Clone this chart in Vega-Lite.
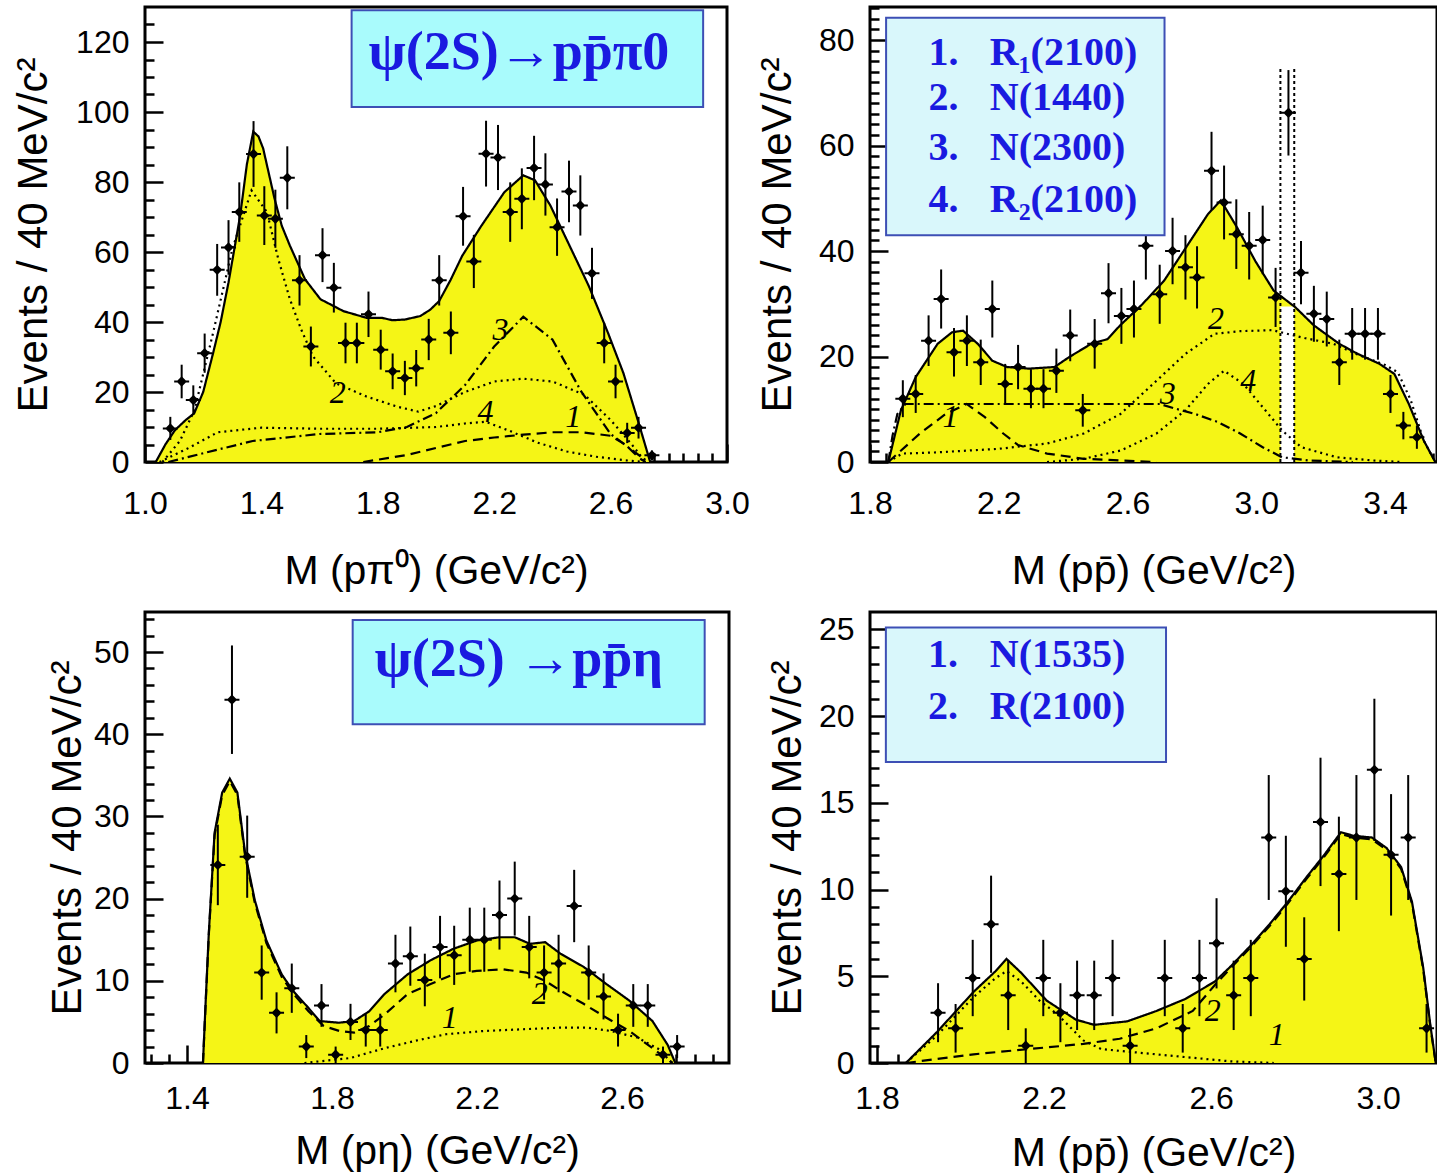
{
  "$schema": "https://vega.github.io/schema/vega-lite/v6.json",
  "autosize": {"type": "pad"},
  "padding": {"left": 10, "top": 5, "right": 0, "bottom": 0},
  "background": "white",
  "columns": 2,
  "spacing": {"row": 150, "column": 141},
  "align": "none",
  "bounds": "flush",
  "config": {
    "view": {"stroke": "black", "strokeWidth": 3},
    "axis": {"labelFont": "Liberation Sans", "labelFontSize": 32, "labelColor": "black", "titleFont": "Liberation Sans", "titleFontWeight": "normal", "titleColor": "black", "domain": false, "grid": false, "tickColor": "black", "tickWidth": 2.5, "labelFlush": false, "labelOverlap": false},
    "axisX": {"titleFontSize": 41},
    "axisY": {"titleFontSize": 42}
  },
  "datasets": {
    "p1p": [
      {"m":1.087,"n":9.6,"lo":6.3,"hi":12.9},{"m":1.126,"n":23,"lo":18.2,"hi":27.8},{"m":1.166,"n":17.7,"lo":13.5,"hi":21.9},{"m":1.205,"n":31.1,"lo":25.5,"hi":36.7},{"m":1.248,"n":54.9,"lo":47.5,"hi":62.3},{"m":1.287,"n":61.3,"lo":53.5,"hi":69.1},{"m":1.324,"n":71.4,"lo":62.9,"hi":79.9},{"m":1.373,"n":88,"lo":78.6,"hi":97.4},{"m":1.41,"n":70.4,"lo":62,"hi":78.8},{"m":1.448,"n":69.5,"lo":61.2,"hi":77.8},{"m":1.489,"n":81.2,"lo":72.2,"hi":90.2},{"m":1.531,"n":51.9,"lo":44.7,"hi":59.1},{"m":1.57,"n":33,"lo":27.3,"hi":38.7},{"m":1.61,"n":59.1,"lo":51.4,"hi":66.8},{"m":1.649,"n":49.8,"lo":42.7,"hi":56.9},{"m":1.689,"n":34,"lo":28.2,"hi":39.8},{"m":1.728,"n":34,"lo":28.2,"hi":39.8},{"m":1.768,"n":42.2,"lo":35.7,"hi":48.7},{"m":1.81,"n":32.1,"lo":26.4,"hi":37.8},{"m":1.851,"n":25.9,"lo":20.8,"hi":31},{"m":1.893,"n":24,"lo":19.1,"hi":28.9},{"m":1.932,"n":26.8,"lo":21.6,"hi":32},{"m":1.975,"n":35,"lo":29.1,"hi":40.9},{"m":2.011,"n":51.9,"lo":44.7,"hi":59.1},{"m":2.051,"n":36.9,"lo":30.8,"hi":43},{"m":2.093,"n":70.2,"lo":61.8,"hi":78.6},{"m":2.13,"n":57.3,"lo":49.7,"hi":64.9},{"m":2.172,"n":88.1,"lo":78.7,"hi":97.5},{"m":2.213,"n":87,"lo":77.7,"hi":96.3},{"m":2.255,"n":71.4,"lo":62.9,"hi":79.9},{"m":2.295,"n":75.2,"lo":66.5,"hi":83.9},{"m":2.337,"n":84,"lo":74.8,"hi":93.2},{"m":2.376,"n":79.3,"lo":70.4,"hi":88.2},{"m":2.416,"n":67.1,"lo":58.9,"hi":75.3},{"m":2.457,"n":77.3,"lo":68.5,"hi":86.1},{"m":2.496,"n":73.3,"lo":64.7,"hi":81.9},{"m":2.536,"n":53.9,"lo":46.6,"hi":61.2},{"m":2.578,"n":34,"lo":28.2,"hi":39.8},{"m":2.617,"n":23,"lo":18.2,"hi":27.8},{"m":2.657,"n":8.3,"lo":5.4,"hi":11.2},{"m":2.696,"n":9.8,"lo":6.7,"hi":12.9},{"m":2.742,"n":1.9,"lo":0.5,"hi":3.3}
    ],
    "p1c": [
      {"c":"total","m":1.037,"v":0},{"c":"total","m":1.07,"v":5},{"c":"total","m":1.103,"v":9.1},{"c":"total","m":1.14,"v":12},{"c":"total","m":1.169,"v":13.9},{"c":"total","m":1.2,"v":20},{"c":"total","m":1.234,"v":31.1},{"c":"total","m":1.26,"v":40},{"c":"total","m":1.287,"v":51.3},{"c":"total","m":1.327,"v":70.4},{"c":"total","m":1.35,"v":85},{"c":"total","m":1.372,"v":94.4},{"c":"total","m":1.39,"v":93},{"c":"total","m":1.406,"v":89.6},{"c":"total","m":1.445,"v":75.3},{"c":"total","m":1.47,"v":67.5},{"c":"total","m":1.498,"v":61.8},{"c":"total","m":1.55,"v":52.2},{"c":"total","m":1.603,"v":46.5},{"c":"total","m":1.682,"v":43.1},{"c":"total","m":1.761,"v":41.2},{"c":"total","m":1.814,"v":41.2},{"c":"total","m":1.85,"v":40.5},{"c":"total","m":1.893,"v":40.7},{"c":"total","m":1.946,"v":41.7},{"c":"total","m":1.98,"v":43.5},{"c":"total","m":2.011,"v":46},{"c":"total","m":2.05,"v":52},{"c":"total","m":2.09,"v":58.9},{"c":"total","m":2.156,"v":67.5},{"c":"total","m":2.235,"v":77.1},{"c":"total","m":2.3,"v":81.9},{"c":"total","m":2.34,"v":80.5},{"c":"total","m":2.393,"v":73.3},{"c":"total","m":2.459,"v":61.8},{"c":"total","m":2.525,"v":50.3},{"c":"total","m":2.591,"v":36.9},{"c":"total","m":2.644,"v":25.4},{"c":"total","m":2.697,"v":11},{"c":"total","m":2.736,"v":0},
      {"c":"dotted","m":1.06,"v":0},{"c":"dotted","m":1.12,"v":6},{"c":"dotted","m":1.17,"v":14.8},{"c":"dotted","m":1.234,"v":36.9},{"c":"dotted","m":1.3,"v":60.8},{"c":"dotted","m":1.366,"v":77.6},{"c":"dotted","m":1.419,"v":71.4},{"c":"dotted","m":1.458,"v":58},{"c":"dotted","m":1.498,"v":46.5},{"c":"dotted","m":1.537,"v":37.8},{"c":"dotted","m":1.577,"v":30.2},{"c":"dotted","m":1.656,"v":22.5},{"c":"dotted","m":1.761,"v":18.7},{"c":"dotted","m":1.867,"v":15.8},{"c":"dotted","m":1.939,"v":14.4},{"c":"dotted","m":2.0,"v":16},{"c":"dotted","m":2.1,"v":20},{"c":"dotted","m":2.2,"v":23},{"c":"dotted","m":2.3,"v":23.8},{"c":"dotted","m":2.4,"v":23},{"c":"dotted","m":2.51,"v":19.2},{"c":"dotted","m":2.6,"v":12},{"c":"dotted","m":2.67,"v":5.3},{"c":"dotted","m":2.72,"v":0},
      {"c":"dashdot","m":1.08,"v":0},{"c":"dashdot","m":1.2,"v":2.5},{"c":"dashdot","m":1.37,"v":6},{"c":"dashdot","m":1.6,"v":8},{"c":"dashdot","m":1.8,"v":8.5},{"c":"dashdot","m":1.9,"v":10},{"c":"dashdot","m":2.0,"v":14},{"c":"dashdot","m":2.1,"v":22},{"c":"dashdot","m":2.2,"v":33},{"c":"dashdot","m":2.3,"v":41.5},{"c":"dashdot","m":2.4,"v":35},{"c":"dashdot","m":2.5,"v":20},{"c":"dashdot","m":2.6,"v":8},{"c":"dashdot","m":2.68,"v":3},{"c":"dashdot","m":2.73,"v":0},
      {"c":"dotted2","m":1.05,"v":0},{"c":"dotted2","m":1.15,"v":4},{"c":"dotted2","m":1.25,"v":8.5},{"c":"dotted2","m":1.4,"v":9.8},{"c":"dotted2","m":1.6,"v":9.5},{"c":"dotted2","m":1.8,"v":9.5},{"c":"dotted2","m":2.0,"v":10},{"c":"dotted2","m":2.1,"v":11},{"c":"dotted2","m":2.17,"v":11.5},{"c":"dotted2","m":2.25,"v":9},{"c":"dotted2","m":2.35,"v":5.5},{"c":"dotted2","m":2.45,"v":3},{"c":"dotted2","m":2.55,"v":1.5},{"c":"dotted2","m":2.65,"v":0.5},{"c":"dotted2","m":2.72,"v":0},
      {"c":"dashed","m":1.75,"v":0},{"c":"dashed","m":1.9,"v":2},{"c":"dashed","m":2.0,"v":4},{"c":"dashed","m":2.1,"v":6},{"c":"dashed","m":2.2,"v":7},{"c":"dashed","m":2.3,"v":7.8},{"c":"dashed","m":2.4,"v":8.5},{"c":"dashed","m":2.5,"v":8.5},{"c":"dashed","m":2.6,"v":7.5},{"c":"dashed","m":2.65,"v":5},{"c":"dashed","m":2.7,"v":1},{"c":"dashed","m":2.72,"v":0}
    ],
    "p2p": [
      {"m":1.902,"n":12.0,"lo":8.5,"hi":15.5},{"m":1.942,"n":12.9,"lo":9.3,"hi":16.5},{"m":1.982,"n":23.0,"lo":18.2,"hi":27.8},{"m":2.021,"n":30.9,"lo":25.3,"hi":36.5},{"m":2.061,"n":20.8,"lo":16.2,"hi":25.4},{"m":2.101,"n":23.0,"lo":18.2,"hi":27.8},{"m":2.144,"n":18.9,"lo":14.6,"hi":23.2},{"m":2.18,"n":29.0,"lo":23.6,"hi":34.4},{"m":2.22,"n":14.8,"lo":11.0,"hi":18.6},{"m":2.26,"n":18.0,"lo":13.8,"hi":22.2},{"m":2.3,"n":13.9,"lo":10.2,"hi":17.6},{"m":2.339,"n":13.9,"lo":10.2,"hi":17.6},{"m":2.379,"n":17.3,"lo":13.1,"hi":21.5},{"m":2.422,"n":24.0,"lo":19.1,"hi":28.9},{"m":2.461,"n":9.8,"lo":6.7,"hi":12.9},{"m":2.498,"n":22.4,"lo":17.7,"hi":27.1},{"m":2.541,"n":32.0,"lo":26.3,"hi":37.7},{"m":2.581,"n":27.7,"lo":22.4,"hi":33.0},{"m":2.62,"n":29.0,"lo":23.6,"hi":34.4},{"m":2.657,"n":41.0,"lo":34.6,"hi":47.4},{"m":2.7,"n":31.8,"lo":26.2,"hi":37.4},{"m":2.74,"n":40.0,"lo":33.7,"hi":46.3},{"m":2.78,"n":36.9,"lo":30.8,"hi":43.0},{"m":2.816,"n":35.0,"lo":29.1,"hi":40.9},{"m":2.861,"n":55.2,"lo":47.8,"hi":62.6},{"m":2.9,"n":49.2,"lo":42.2,"hi":56.2},{"m":2.938,"n":43.2,"lo":36.6,"hi":49.8},{"m":2.978,"n":41.0,"lo":34.6,"hi":47.4},{"m":3.02,"n":42.1,"lo":35.6,"hi":48.6},{"m":3.06,"n":31.2,"lo":25.6,"hi":36.8},{"m":3.1,"n":66.2,"lo":58.1,"hi":74.3},{"m":3.139,"n":35.9,"lo":29.9,"hi":41.9},{"m":3.179,"n":28.1,"lo":22.8,"hi":33.4},{"m":3.219,"n":27.1,"lo":21.9,"hi":32.3},{"m":3.258,"n":18.9,"lo":14.6,"hi":23.2},{"m":3.298,"n":24.3,"lo":19.4,"hi":29.2},{"m":3.338,"n":24.3,"lo":19.4,"hi":29.2},{"m":3.378,"n":24.3,"lo":19.4,"hi":29.2},{"m":3.417,"n":12.9,"lo":9.3,"hi":16.5},{"m":3.457,"n":6.9,"lo":4.3,"hi":9.5},{"m":3.499,"n":4.7,"lo":2.5,"hi":6.9}
    ],
    "p2c": [
      {"c":"total","m":1.857,"v":0},{"c":"total","m":1.896,"v":9.8},{"c":"total","m":1.942,"v":16.1},{"c":"total","m":2.01,"v":22.4},{"c":"total","m":2.055,"v":24.6},{"c":"total","m":2.089,"v":24.9},{"c":"total","m":2.135,"v":22.4},{"c":"total","m":2.18,"v":19.2},{"c":"total","m":2.226,"v":18.0},{"c":"total","m":2.294,"v":17.7},{"c":"total","m":2.373,"v":18.0},{"c":"total","m":2.419,"v":19.9},{"c":"total","m":2.487,"v":22.4},{"c":"total","m":2.538,"v":23.3},{"c":"total","m":2.577,"v":25.9},{"c":"total","m":2.646,"v":29.9},{"c":"total","m":2.714,"v":34.4},{"c":"total","m":2.782,"v":40.7},{"c":"total","m":2.85,"v":47.0},{"c":"total","m":2.89,"v":49.6},{"c":"total","m":2.941,"v":44.4},{"c":"total","m":2.997,"v":38.1},{"c":"total","m":3.054,"v":32.5},{"c":"total","m":3.122,"v":29.3},{"c":"total","m":3.179,"v":25.9},{"c":"total","m":3.258,"v":22.4},{"c":"total","m":3.315,"v":20.5},{"c":"total","m":3.383,"v":18.6},{"c":"total","m":3.429,"v":16.7},{"c":"total","m":3.474,"v":11.0},{"c":"total","m":3.52,"v":4.1},{"c":"total","m":3.556,"v":0},
      {"c":"dotted","m":1.857,"v":0},{"c":"dotted","m":1.9,"v":1.6},{"c":"dotted","m":2.0,"v":1.8},{"c":"dotted","m":2.2,"v":2.5},{"c":"dotted","m":2.35,"v":3.5},{"c":"dotted","m":2.464,"v":5.4},{"c":"dotted","m":2.578,"v":9.1},{"c":"dotted","m":2.69,"v":15.4},{"c":"dotted","m":2.78,"v":20.5},{"c":"dotted","m":2.87,"v":24.3},{"c":"dotted","m":2.95,"v":24.8},{"c":"dotted","m":3.05,"v":25},{"c":"dotted","m":3.15,"v":23.5},{"c":"dotted","m":3.24,"v":22.4},{"c":"dotted","m":3.31,"v":20.5},{"c":"dotted","m":3.4,"v":18.4},{"c":"dotted","m":3.44,"v":17},{"c":"dotted","m":3.48,"v":11.7},{"c":"dotted","m":3.52,"v":4.1},{"c":"dotted","m":3.556,"v":0},
      {"c":"dotted2","m":2.35,"v":0},{"c":"dotted2","m":2.464,"v":0.6},{"c":"dotted2","m":2.58,"v":2.2},{"c":"dotted2","m":2.69,"v":5.4},{"c":"dotted2","m":2.78,"v":9.8},{"c":"dotted2","m":2.85,"v":14.8},{"c":"dotted2","m":2.9,"v":17.3},{"c":"dotted2","m":2.96,"v":14.8},{"c":"dotted2","m":3.02,"v":10.4},{"c":"dotted2","m":3.08,"v":6.0},{"c":"dotted2","m":3.14,"v":2.8},{"c":"dotted2","m":3.25,"v":0.9},{"c":"dotted2","m":3.36,"v":0.3},{"c":"dotted2","m":3.45,"v":0},
      {"c":"dashed","m":1.857,"v":0},{"c":"dashed","m":1.955,"v":5.4},{"c":"dashed","m":2.035,"v":9.1},{"c":"dashed","m":2.1,"v":11.0},{"c":"dashed","m":2.157,"v":8.5},{"c":"dashed","m":2.214,"v":5.4},{"c":"dashed","m":2.26,"v":3.2},{"c":"dashed","m":2.35,"v":1.6},{"c":"dashed","m":2.464,"v":0.6},{"c":"dashed","m":2.69,"v":0},
      {"c":"dashdot","m":1.857,"v":0},{"c":"dashdot","m":1.87,"v":5},{"c":"dashdot","m":1.885,"v":9.1},{"c":"dashdot","m":1.91,"v":11},{"c":"dashdot","m":2.2,"v":11},{"c":"dashdot","m":2.5,"v":11},{"c":"dashdot","m":2.7,"v":11},{"c":"dashdot","m":2.75,"v":10.1},{"c":"dashdot","m":2.81,"v":9.1},{"c":"dashdot","m":2.88,"v":7.6},{"c":"dashdot","m":2.95,"v":5.4},{"c":"dashdot","m":3.02,"v":2.8},{"c":"dashdot","m":3.08,"v":0.9},{"c":"dashdot","m":3.16,"v":0.3},{"c":"dashdot","m":3.3,"v":0}
    ],
    "p3p": [
      {"m":1.485,"n":24.1,"lo":19.2,"hi":29.0},{"m":1.524,"n":44.2,"lo":37.6,"hi":50.8},{"m":1.566,"n":25.1,"lo":20.1,"hi":30.1},{"m":1.606,"n":11.0,"lo":7.7,"hi":14.3},{"m":1.647,"n":6.1,"lo":3.6,"hi":8.6},{"m":1.689,"n":9.1,"lo":6.1,"hi":12.1},{"m":1.729,"n":2.0,"lo":0.6,"hi":3.4},{"m":1.771,"n":7.0,"lo":4.4,"hi":9.6},{"m":1.81,"n":1.0,"lo":0,"hi":2.0},{"m":1.851,"n":5.0,"lo":2.8,"hi":7.2},{"m":1.893,"n":4.0,"lo":2.0,"hi":6.0},{"m":1.933,"n":4.0,"lo":2.0,"hi":6.0},{"m":1.975,"n":12.1,"lo":8.6,"hi":15.6},{"m":2.016,"n":13.0,"lo":9.4,"hi":16.6},{"m":2.056,"n":10.1,"lo":6.9,"hi":13.3},{"m":2.098,"n":14.1,"lo":10.3,"hi":17.9},{"m":2.137,"n":13.1,"lo":9.5,"hi":16.7},{"m":2.18,"n":15.0,"lo":11.1,"hi":18.9},{"m":2.22,"n":15.0,"lo":11.1,"hi":18.9},{"m":2.262,"n":18.0,"lo":13.8,"hi":22.2},{"m":2.304,"n":20.0,"lo":15.5,"hi":24.5},{"m":2.344,"n":14.1,"lo":10.3,"hi":17.9},{"m":2.385,"n":11.0,"lo":7.7,"hi":14.3},{"m":2.425,"n":12.1,"lo":8.6,"hi":15.6},{"m":2.468,"n":19.1,"lo":14.7,"hi":23.5},{"m":2.508,"n":11.0,"lo":7.7,"hi":14.3},{"m":2.549,"n":8.1,"lo":5.3,"hi":10.9},{"m":2.589,"n":4.0,"lo":2.0,"hi":6.0},{"m":2.631,"n":7.0,"lo":4.4,"hi":9.6},{"m":2.671,"n":7.0,"lo":4.4,"hi":9.6},{"m":2.713,"n":1.0,"lo":0,"hi":2.0},{"m":2.752,"n":2.0,"lo":0.6,"hi":3.4}
    ],
    "p3c": [
      {"c":"total","m":1.444,"v":0},{"c":"total","m":1.452,"v":8},{"c":"total","m":1.46,"v":15.7},{"c":"total","m":1.476,"v":28},{"c":"total","m":1.497,"v":32.9},{"c":"total","m":1.518,"v":34.6},{"c":"total","m":1.539,"v":32.9},{"c":"total","m":1.56,"v":25.6},{"c":"total","m":1.587,"v":19.8},{"c":"total","m":1.619,"v":14.9},{"c":"total","m":1.661,"v":10.8},{"c":"total","m":1.692,"v":8.8},{"c":"total","m":1.735,"v":6.7},{"c":"total","m":1.766,"v":5.1},{"c":"total","m":1.819,"v":4.9},{"c":"total","m":1.861,"v":5.1},{"c":"total","m":1.903,"v":6.3},{"c":"total","m":1.945,"v":8.4},{"c":"total","m":2.009,"v":10.8},{"c":"total","m":2.072,"v":12.5},{"c":"total","m":2.135,"v":13.9},{"c":"total","m":2.199,"v":14.9},{"c":"total","m":2.262,"v":15.3},{"c":"total","m":2.304,"v":15.3},{"c":"total","m":2.346,"v":14.5},{"c":"total","m":2.388,"v":14.7},{"c":"total","m":2.43,"v":13.3},{"c":"total","m":2.494,"v":11.7},{"c":"total","m":2.557,"v":9.6},{"c":"total","m":2.62,"v":7.6},{"c":"total","m":2.684,"v":5.1},{"c":"total","m":2.726,"v":2.2},{"c":"total","m":2.747,"v":0},
      {"c":"dashed","m":1.444,"v":0},{"c":"dashed","m":1.452,"v":7.8},{"c":"dashed","m":1.46,"v":15.5},{"c":"dashed","m":1.476,"v":27.7},{"c":"dashed","m":1.497,"v":32.6},{"c":"dashed","m":1.518,"v":34.3},{"c":"dashed","m":1.539,"v":32.6},{"c":"dashed","m":1.56,"v":25.3},{"c":"dashed","m":1.587,"v":19.5},{"c":"dashed","m":1.619,"v":14.6},{"c":"dashed","m":1.661,"v":10.5},{"c":"dashed","m":1.692,"v":8.5},{"c":"dashed","m":1.735,"v":6.3},{"c":"dashed","m":1.777,"v":4.5},{"c":"dashed","m":1.82,"v":3.9},{"c":"dashed","m":1.861,"v":3.7},{"c":"dashed","m":1.903,"v":4.5},{"c":"dashed","m":1.945,"v":5.9},{"c":"dashed","m":2.009,"v":8.4},{"c":"dashed","m":2.072,"v":9.6},{"c":"dashed","m":2.135,"v":10.8},{"c":"dashed","m":2.199,"v":11.2},{"c":"dashed","m":2.272,"v":11.4},{"c":"dashed","m":2.336,"v":11.0},{"c":"dashed","m":2.388,"v":10.0},{"c":"dashed","m":2.43,"v":8.8},{"c":"dashed","m":2.494,"v":7.2},{"c":"dashed","m":2.557,"v":5.5},{"c":"dashed","m":2.62,"v":3.9},{"c":"dashed","m":2.684,"v":1.8},{"c":"dashed","m":2.74,"v":0},
      {"c":"dotted","m":1.724,"v":0},{"c":"dotted","m":1.85,"v":0.6},{"c":"dotted","m":1.945,"v":1.8},{"c":"dotted","m":2.03,"v":2.7},{"c":"dotted","m":2.114,"v":3.5},{"c":"dotted","m":2.22,"v":3.9},{"c":"dotted","m":2.325,"v":4.1},{"c":"dotted","m":2.43,"v":4.3},{"c":"dotted","m":2.504,"v":4.3},{"c":"dotted","m":2.568,"v":3.9},{"c":"dotted","m":2.642,"v":3.1},{"c":"dotted","m":2.705,"v":1.6},{"c":"dotted","m":2.737,"v":0}
    ],
    "p4p": [
      {"m":1.946,"n":2.9,"lo":1.2,"hi":4.6},{"m":1.988,"n":2.0,"lo":0.6,"hi":3.4},{"m":2.029,"n":4.9,"lo":2.7,"hi":7.1},{"m":2.073,"n":8.0,"lo":5.2,"hi":10.8},{"m":2.114,"n":3.9,"lo":1.9,"hi":5.9},{"m":2.156,"n":1.0,"lo":0,"hi":2.0},{"m":2.198,"n":4.9,"lo":2.7,"hi":7.1},{"m":2.239,"n":2.9,"lo":1.2,"hi":4.6},{"m":2.279,"n":3.9,"lo":1.9,"hi":5.9},{"m":2.32,"n":3.9,"lo":1.9,"hi":5.9},{"m":2.364,"n":4.9,"lo":2.7,"hi":7.1},{"m":2.406,"n":1.0,"lo":0,"hi":2.0},{"m":2.489,"n":4.9,"lo":2.7,"hi":7.1},{"m":2.532,"n":2.0,"lo":0.6,"hi":3.4},{"m":2.572,"n":4.9,"lo":2.7,"hi":7.1},{"m":2.613,"n":6.9,"lo":4.3,"hi":9.5},{"m":2.654,"n":3.9,"lo":1.9,"hi":5.9},{"m":2.695,"n":4.9,"lo":2.7,"hi":7.1},{"m":2.738,"n":13.0,"lo":9.4,"hi":16.6},{"m":2.779,"n":9.9,"lo":6.7,"hi":13.1},{"m":2.823,"n":6.0,"lo":3.6,"hi":8.4},{"m":2.862,"n":13.9,"lo":10.2,"hi":17.6},{"m":2.906,"n":10.9,"lo":7.6,"hi":14.2},{"m":2.948,"n":13.0,"lo":9.4,"hi":16.6},{"m":2.991,"n":16.9,"lo":12.8,"hi":21.0},{"m":3.031,"n":12.0,"lo":8.5,"hi":15.5},{"m":3.072,"n":13.0,"lo":9.4,"hi":16.6},{"m":3.116,"n":2.0,"lo":0.6,"hi":3.4}
    ],
    "p4c": [
      {"c":"total","m":1.869,"v":0},{"c":"total","m":1.944,"v":1.8},{"c":"total","m":2.031,"v":4.1},{"c":"total","m":2.084,"v":5.3},{"c":"total","m":2.11,"v":6.0},{"c":"total","m":2.145,"v":5.2},{"c":"total","m":2.206,"v":3.6},{"c":"total","m":2.276,"v":2.5},{"c":"total","m":2.32,"v":2.2},{"c":"total","m":2.399,"v":2.4},{"c":"total","m":2.469,"v":3.0},{"c":"total","m":2.539,"v":3.7},{"c":"total","m":2.609,"v":4.7},{"c":"total","m":2.644,"v":5.5},{"c":"total","m":2.696,"v":6.8},{"c":"total","m":2.74,"v":8.0},{"c":"total","m":2.784,"v":9.3},{"c":"total","m":2.828,"v":10.7},{"c":"total","m":2.871,"v":12.0},{"c":"total","m":2.911,"v":13.3},{"c":"total","m":2.941,"v":13.1},{"c":"total","m":2.985,"v":13.0},{"c":"total","m":3.02,"v":12.4},{"c":"total","m":3.055,"v":11.3},{"c":"total","m":3.081,"v":9.3},{"c":"total","m":3.108,"v":5.5},{"c":"total","m":3.125,"v":2.2},{"c":"total","m":3.138,"v":0},
      {"c":"dashed","m":1.869,"v":0},{"c":"dashed","m":2.031,"v":0.5},{"c":"dashed","m":2.162,"v":0.8},{"c":"dashed","m":2.294,"v":1.1},{"c":"dashed","m":2.381,"v":1.4},{"c":"dashed","m":2.469,"v":2.0},{"c":"dashed","m":2.556,"v":3.0},{"c":"dashed","m":2.609,"v":4.5},{"c":"dashed","m":2.644,"v":5.4},{"c":"dashed","m":2.696,"v":6.7},{"c":"dashed","m":2.74,"v":7.9},{"c":"dashed","m":2.784,"v":9.2},{"c":"dashed","m":2.828,"v":10.6},{"c":"dashed","m":2.871,"v":11.9},{"c":"dashed","m":2.911,"v":13.2},{"c":"dashed","m":2.941,"v":13.0},{"c":"dashed","m":2.985,"v":12.9},{"c":"dashed","m":3.02,"v":12.3},{"c":"dashed","m":3.055,"v":11.2},{"c":"dashed","m":3.081,"v":9.2},{"c":"dashed","m":3.108,"v":5.4},{"c":"dashed","m":3.125,"v":2.1},{"c":"dashed","m":3.138,"v":0},
      {"c":"dotted","m":1.869,"v":0},{"c":"dotted","m":1.944,"v":1.6},{"c":"dotted","m":2.031,"v":3.8},{"c":"dotted","m":2.084,"v":4.9},{"c":"dotted","m":2.11,"v":5.3},{"c":"dotted","m":2.145,"v":4.7},{"c":"dotted","m":2.189,"v":3.6},{"c":"dotted","m":2.232,"v":2.8},{"c":"dotted","m":2.294,"v":1.3},{"c":"dotted","m":2.337,"v":0.8},{"c":"dotted","m":2.425,"v":0.6},{"c":"dotted","m":2.556,"v":0.3},{"c":"dotted","m":2.644,"v":0.1},{"c":"dotted","m":2.75,"v":0}
    ]
  },
  "concat": [
    {
      "width": 582, "height": 455,
      "resolve": {"axis": {"x": "independent", "y": "independent"}},
      "layer": [
        {"data": {"name": "p1c"}, "transform": [{"filter": "datum.c == 'total'"}],
         "mark": {"type": "area", "color": "#f5f516", "opacity": 1},
         "encoding": {
           "x": {"field": "m", "type": "quantitative", "scale": {"domain": [1.0, 3.0], "nice": false, "zero": false},
                 "axis": {"orient": "bottom", "values": [1.0, 1.4, 1.8, 2.2, 2.6, 3.0], "format": ".1f", "tickSize": -18, "labelPadding": 44, "title": "M (pπ⁰) (GeV/c²)", "titleY": 121, "titleBaseline": "alphabetic"}},
           "y": {"field": "v", "type": "quantitative", "scale": {"domain": [0, 130], "nice": false},
                 "axis": {"orient": "left", "values": [0, 20, 40, 60, 80, 100, 120], "tickSize": -18, "labelPadding": 34, "title": "Events /  40 MeV/c²", "titleX": -99, "titleBaseline": "alphabetic"}}
         }},
        {"data": {"name": "p1c"},
         "mark": {"type": "line", "color": "black", "strokeWidth": 2.2},
         "encoding": {
           "x": {"field": "m", "type": "quantitative", "axis": {"orient": "bottom", "values": [1.05,1.1,1.15,1.2,1.25,1.3,1.35,1.45,1.5,1.55,1.6,1.65,1.7,1.75,1.85,1.9,1.95,2.0,2.05,2.1,2.15,2.25,2.3,2.35,2.4,2.45,2.5,2.55,2.65,2.7,2.75,2.8,2.85,2.9,2.95], "tickSize": -9, "labels": false, "title": null}},
           "y": {"field": "v", "type": "quantitative", "axis": {"orient": "left", "values": [5,10,15,25,30,35,45,50,55,65,70,75,85,90,95,105,110,115,125], "tickSize": -9, "labels": false, "title": null}},
           "strokeDash": {"field": "c", "type": "nominal", "scale": {"domain": ["total", "dashed", "dotted", "dotted2", "dashdot"], "range": [[1, 0], [10, 6], [2, 4], [2, 4], [10, 4, 2, 4]]}, "legend": null}
         }},
        {"data": {"name": "p1p"}, "mark": {"type": "rule", "color": "black", "strokeWidth": 2},
         "encoding": {"x": {"field": "m", "type": "quantitative", "axis": null}, "y": {"field": "lo", "type": "quantitative", "axis": null}, "y2": {"field": "hi"}}},
        {"data": {"name": "p1p"}, "mark": {"type": "point", "shape": "M-1,0L1,0M0,-0.5L0.5,0L0,0.5L-0.5,0Z", "size": 225, "filled": true, "fill": "black", "stroke": "black", "strokeWidth": 2, "opacity": 1},
         "encoding": {"x": {"field": "m", "type": "quantitative", "axis": null}, "y": {"field": "n", "type": "quantitative", "axis": null}}},
        {"data": {"values": [{}]}, "mark": {"type": "rect", "fill": "#a9fbfc", "stroke": "#3d4fb5", "strokeWidth": 2},
         "encoding": {"x": {"datum": 1.71, "type": "quantitative", "axis": null}, "x2": {"datum": 2.918}, "y": {"datum": 101.4, "type": "quantitative", "axis": null}, "y2": {"datum": 129.1}}},
        {"data": {"values": [{"t": "ψ(2S)→pp̄π0"}]}, "mark": {"type": "text", "font": "Liberation Serif", "fontWeight": "bold", "fontSize": 54, "color": "#1a1ae0", "align": "center", "baseline": "middle"},
         "encoding": {"text": {"field": "t"}, "x": {"datum": 2.285, "type": "quantitative", "axis": null}, "y": {"datum": 117, "type": "quantitative", "axis": null}}},
        {"data": {"values": [{"t": "3"}]}, "mark": {"type": "text", "font": "Liberation Serif", "fontStyle": "italic", "fontSize": 32, "color": "black", "align": "center", "baseline": "middle"},
         "encoding": {"text": {"field": "t"}, "x": {"datum": 2.222, "type": "quantitative", "axis": null}, "y": {"datum": 37.8, "type": "quantitative", "axis": null}}},
        {"data": {"values": [{"t": "2"}]}, "mark": {"type": "text", "font": "Liberation Serif", "fontStyle": "italic", "fontSize": 32, "color": "black", "align": "center", "baseline": "middle"},
         "encoding": {"text": {"field": "t"}, "x": {"datum": 1.662, "type": "quantitative", "axis": null}, "y": {"datum": 19.6, "type": "quantitative", "axis": null}}},
        {"data": {"values": [{"t": "4"}]}, "mark": {"type": "text", "font": "Liberation Serif", "fontStyle": "italic", "fontSize": 32, "color": "black", "align": "center", "baseline": "middle"},
         "encoding": {"text": {"field": "t"}, "x": {"datum": 2.17, "type": "quantitative", "axis": null}, "y": {"datum": 14.4, "type": "quantitative", "axis": null}}},
        {"data": {"values": [{"t": "1"}]}, "mark": {"type": "text", "font": "Liberation Serif", "fontStyle": "italic", "fontSize": 32, "color": "black", "align": "center", "baseline": "middle"},
         "encoding": {"text": {"field": "t"}, "x": {"datum": 2.472, "type": "quantitative", "axis": null}, "y": {"datum": 12.9, "type": "quantitative", "axis": null}}}
      ]
    },
    {
      "width": 567, "height": 455,
      "resolve": {"axis": {"x": "independent", "y": "independent"}},
      "layer": [
        {"data": {"name": "p2c"}, "transform": [{"filter": "datum.c == 'total'"}],
         "mark": {"type": "area", "color": "#f5f516", "opacity": 1},
         "encoding": {
           "x": {"field": "m", "type": "quantitative", "scale": {"domain": [1.8, 3.5615], "nice": false, "zero": false},
                 "axis": {"orient": "bottom", "values": [1.8, 2.2, 2.6, 3.0, 3.4], "format": ".1f", "tickSize": -18, "labelPadding": 44, "title": "M (pp̄) (GeV/c²)", "titleY": 121, "titleBaseline": "alphabetic"}},
           "y": {"field": "v", "type": "quantitative", "scale": {"domain": [0, 86.26], "nice": false},
                 "axis": {"orient": "left", "values": [0, 20, 40, 60, 80], "tickSize": -18, "labelPadding": 34, "title": "Events /  40 MeV/c²", "titleX": -80, "titleBaseline": "alphabetic"}}
         }},
        {"data": {"values": [{}]}, "mark": {"type": "rect", "fill": "white"},
         "encoding": {"x": {"datum": 3.075, "type": "quantitative", "axis": null}, "x2": {"datum": 3.118}, "y": {"datum": 0, "type": "quantitative", "axis": null}, "y2": {"datum": 29.5}}},
        {"data": {"values": [{}]}, "mark": {"type": "rule", "color": "black", "strokeWidth": 2, "strokeDash": [3, 3]},
         "encoding": {"x": {"datum": 3.075, "type": "quantitative", "axis": null}, "y": {"datum": 0, "type": "quantitative", "axis": null}, "y2": {"datum": 75}}},
        {"data": {"values": [{}]}, "mark": {"type": "rule", "color": "black", "strokeWidth": 2, "strokeDash": [3, 3]},
         "encoding": {"x": {"datum": 3.118, "type": "quantitative", "axis": null}, "y": {"datum": 0, "type": "quantitative", "axis": null}, "y2": {"datum": 75}}},
        {"data": {"name": "p2c"},
         "mark": {"type": "line", "color": "black", "strokeWidth": 2.2},
         "encoding": {
           "x": {"field": "m", "type": "quantitative", "axis": {"orient": "bottom", "values": [1.85,1.9,1.95,2.0,2.05,2.1,2.15,2.25,2.3,2.35,2.4,2.45,2.5,2.55,2.65,2.7,2.75,2.8,2.85,2.9,2.95,3.05,3.1,3.15,3.2,3.25,3.3,3.35,3.45,3.5,3.55], "tickSize": -9, "labels": false, "title": null}},
           "y": {"field": "v", "type": "quantitative", "axis": {"orient": "left", "values": [2,4,6,8,10,12,14,16,18,22,24,26,28,30,32,34,36,38,42,44,46,48,50,52,54,56,58,62,64,66,68,70,72,74,76,78,82,84,86], "tickSize": -9, "labels": false, "title": null}},
           "strokeDash": {"field": "c", "type": "nominal", "scale": {"domain": ["total", "dashed", "dotted", "dotted2", "dashdot"], "range": [[1, 0], [10, 6], [2, 4], [2, 4], [10, 4, 2, 4]]}, "legend": null}
         }},
        {"data": {"name": "p2p"}, "mark": {"type": "rule", "color": "black", "strokeWidth": 2},
         "encoding": {"x": {"field": "m", "type": "quantitative", "axis": null}, "y": {"field": "lo", "type": "quantitative", "axis": null}, "y2": {"field": "hi"}}},
        {"data": {"name": "p2p"}, "mark": {"type": "point", "shape": "M-1,0L1,0M0,-0.5L0.5,0L0,0.5L-0.5,0Z", "size": 225, "filled": true, "fill": "black", "stroke": "black", "strokeWidth": 2, "opacity": 1},
         "encoding": {"x": {"field": "m", "type": "quantitative", "axis": null}, "y": {"field": "n", "type": "quantitative", "axis": null}}},
        {"data": {"values": [{}]}, "mark": {"type": "rect", "fill": "#d9f7fb", "stroke": "#3d4fb5", "strokeWidth": 2},
         "encoding": {"x": {"datum": 1.85, "type": "quantitative", "axis": null}, "x2": {"datum": 2.715}, "y": {"datum": 43.0, "type": "quantitative", "axis": null}, "y2": {"datum": 84.2}}},
        {"data": {"values": [{"t": "1."}]}, "mark": {"type": "text", "font": "Liberation Serif", "fontWeight": "bold", "fontSize": 40, "color": "#1a1ae0", "align": "center", "baseline": "middle"},
         "encoding": {"text": {"field": "t"}, "x": {"datum": 2.028, "type": "quantitative", "axis": null}, "y": {"datum": 77.5, "type": "quantitative", "axis": null}}},
        {"data": {"values": [{"t": "2."}]}, "mark": {"type": "text", "font": "Liberation Serif", "fontWeight": "bold", "fontSize": 40, "color": "#1a1ae0", "align": "center", "baseline": "middle"},
         "encoding": {"text": {"field": "t"}, "x": {"datum": 2.028, "type": "quantitative", "axis": null}, "y": {"datum": 69.0, "type": "quantitative", "axis": null}}},
        {"data": {"values": [{"t": "3."}]}, "mark": {"type": "text", "font": "Liberation Serif", "fontWeight": "bold", "fontSize": 40, "color": "#1a1ae0", "align": "center", "baseline": "middle"},
         "encoding": {"text": {"field": "t"}, "x": {"datum": 2.028, "type": "quantitative", "axis": null}, "y": {"datum": 59.5, "type": "quantitative", "axis": null}}},
        {"data": {"values": [{"t": "4."}]}, "mark": {"type": "text", "font": "Liberation Serif", "fontWeight": "bold", "fontSize": 40, "color": "#1a1ae0", "align": "center", "baseline": "middle"},
         "encoding": {"text": {"field": "t"}, "x": {"datum": 2.028, "type": "quantitative", "axis": null}, "y": {"datum": 49.7, "type": "quantitative", "axis": null}}},
        {"data": {"values": [{"t": "R₁(2100)"}]}, "mark": {"type": "text", "font": "Liberation Serif", "fontWeight": "bold", "fontSize": 40, "color": "#1a1ae0", "align": "left", "baseline": "middle"},
         "encoding": {"text": {"field": "t"}, "x": {"datum": 2.172, "type": "quantitative", "axis": null}, "y": {"datum": 77.5, "type": "quantitative", "axis": null}}},
        {"data": {"values": [{"t": "N(1440)"}]}, "mark": {"type": "text", "font": "Liberation Serif", "fontWeight": "bold", "fontSize": 40, "color": "#1a1ae0", "align": "left", "baseline": "middle"},
         "encoding": {"text": {"field": "t"}, "x": {"datum": 2.172, "type": "quantitative", "axis": null}, "y": {"datum": 69.0, "type": "quantitative", "axis": null}}},
        {"data": {"values": [{"t": "N(2300)"}]}, "mark": {"type": "text", "font": "Liberation Serif", "fontWeight": "bold", "fontSize": 40, "color": "#1a1ae0", "align": "left", "baseline": "middle"},
         "encoding": {"text": {"field": "t"}, "x": {"datum": 2.172, "type": "quantitative", "axis": null}, "y": {"datum": 59.5, "type": "quantitative", "axis": null}}},
        {"data": {"values": [{"t": "R₂(2100)"}]}, "mark": {"type": "text", "font": "Liberation Serif", "fontWeight": "bold", "fontSize": 40, "color": "#1a1ae0", "align": "left", "baseline": "middle"},
         "encoding": {"text": {"field": "t"}, "x": {"datum": 2.172, "type": "quantitative", "axis": null}, "y": {"datum": 49.7, "type": "quantitative", "axis": null}}},
        {"data": {"values": [{"t": "2"}]}, "mark": {"type": "text", "font": "Liberation Serif", "fontStyle": "italic", "fontSize": 32, "color": "black", "align": "center", "baseline": "middle"},
         "encoding": {"text": {"field": "t"}, "x": {"datum": 2.875, "type": "quantitative", "axis": null}, "y": {"datum": 27.1, "type": "quantitative", "axis": null}}},
        {"data": {"values": [{"t": "3"}]}, "mark": {"type": "text", "font": "Liberation Serif", "fontStyle": "italic", "fontSize": 32, "color": "black", "align": "center", "baseline": "middle"},
         "encoding": {"text": {"field": "t"}, "x": {"datum": 2.725, "type": "quantitative", "axis": null}, "y": {"datum": 12.9, "type": "quantitative", "axis": null}}},
        {"data": {"values": [{"t": "4"}]}, "mark": {"type": "text", "font": "Liberation Serif", "fontStyle": "italic", "fontSize": 32, "color": "black", "align": "center", "baseline": "middle"},
         "encoding": {"text": {"field": "t"}, "x": {"datum": 2.975, "type": "quantitative", "axis": null}, "y": {"datum": 15.4, "type": "quantitative", "axis": null}}},
        {"data": {"values": [{"t": "1"}]}, "mark": {"type": "text", "font": "Liberation Serif", "fontStyle": "italic", "fontSize": 32, "color": "black", "align": "center", "baseline": "middle"},
         "encoding": {"text": {"field": "t"}, "x": {"datum": 2.05, "type": "quantitative", "axis": null}, "y": {"datum": 8.5, "type": "quantitative", "axis": null}}}
      ]
    },
    {
      "width": 584, "height": 451,
      "resolve": {"axis": {"x": "independent", "y": "independent"}},
      "layer": [
        {"data": {"name": "p3c"}, "transform": [{"filter": "datum.c == 'total'"}],
         "mark": {"type": "area", "color": "#f5f516", "opacity": 1},
         "encoding": {
           "x": {"field": "m", "type": "quantitative", "scale": {"domain": [1.2841, 2.8951], "nice": false, "zero": false},
                 "axis": {"orient": "bottom", "values": [1.4, 1.8, 2.2, 2.6], "format": ".1f", "tickSize": -18, "labelPadding": 38, "title": "M (pη) (GeV/c²)", "titleY": 100, "titleBaseline": "alphabetic"}},
           "y": {"field": "v", "type": "quantitative", "scale": {"domain": [0, 54.87], "nice": false},
                 "axis": {"orient": "left", "values": [0, 10, 20, 30, 40, 50], "tickSize": -18, "labelPadding": 34, "title": "Events /  40 MeV/c²", "titleX": -65, "titleBaseline": "alphabetic"}}
         }},
        {"data": {"name": "p3c"},
         "mark": {"type": "line", "color": "black", "strokeWidth": 2.2},
         "encoding": {
           "x": {"field": "m", "type": "quantitative", "axis": {"orient": "bottom", "values": [1.3,1.35,1.45,1.5,1.55,1.6,1.65,1.7,1.75,1.85,1.9,1.95,2.0,2.05,2.1,2.15,2.25,2.3,2.35,2.4,2.45,2.5,2.55,2.65,2.7,2.75,2.8,2.85], "tickSize": -9, "labels": false, "title": null}},
           "y": {"field": "v", "type": "quantitative", "axis": {"orient": "left", "values": [2,4,6,8,12,14,16,18,22,24,26,28,32,34,36,38,42,44,46,48,52,54], "tickSize": -9, "labels": false, "title": null}},
           "strokeDash": {"field": "c", "type": "nominal", "scale": {"domain": ["total", "dashed", "dotted", "dotted2", "dashdot"], "range": [[1, 0], [10, 6], [2, 4], [2, 4], [10, 4, 2, 4]]}, "legend": null}
         }},
        {"data": {"name": "p3p"}, "mark": {"type": "rule", "color": "black", "strokeWidth": 2},
         "encoding": {"x": {"field": "m", "type": "quantitative", "axis": null}, "y": {"field": "lo", "type": "quantitative", "axis": null}, "y2": {"field": "hi"}}},
        {"data": {"name": "p3p"}, "mark": {"type": "point", "shape": "M-1,0L1,0M0,-0.5L0.5,0L0,0.5L-0.5,0Z", "size": 225, "filled": true, "fill": "black", "stroke": "black", "strokeWidth": 2, "opacity": 1},
         "encoding": {"x": {"field": "m", "type": "quantitative", "axis": null}, "y": {"field": "n", "type": "quantitative", "axis": null}}},
        {"data": {"values": [{}]}, "mark": {"type": "rect", "fill": "#a9fbfc", "stroke": "#3d4fb5", "strokeWidth": 2},
         "encoding": {"x": {"datum": 1.857, "type": "quantitative", "axis": null}, "x2": {"datum": 2.828}, "y": {"datum": 41.2, "type": "quantitative", "axis": null}, "y2": {"datum": 53.9}}},
        {"data": {"values": [{"t": "ψ(2S) →pp̄η"}]}, "mark": {"type": "text", "font": "Liberation Serif", "fontWeight": "bold", "fontSize": 54, "color": "#1a1ae0", "align": "center", "baseline": "middle"},
         "encoding": {"text": {"field": "t"}, "x": {"datum": 2.315, "type": "quantitative", "axis": null}, "y": {"datum": 49.0, "type": "quantitative", "axis": null}}},
        {"data": {"values": [{"t": "1"}]}, "mark": {"type": "text", "font": "Liberation Serif", "fontStyle": "italic", "fontSize": 32, "color": "black", "align": "center", "baseline": "middle"},
         "encoding": {"text": {"field": "t"}, "x": {"datum": 2.125, "type": "quantitative", "axis": null}, "y": {"datum": 5.5, "type": "quantitative", "axis": null}}},
        {"data": {"values": [{"t": "2"}]}, "mark": {"type": "text", "font": "Liberation Serif", "fontStyle": "italic", "fontSize": 32, "color": "black", "align": "center", "baseline": "middle"},
         "encoding": {"text": {"field": "t"}, "x": {"datum": 2.373, "type": "quantitative", "axis": null}, "y": {"datum": 8.4, "type": "quantitative", "axis": null}}}
      ]
    },
    {
      "width": 567, "height": 451,
      "resolve": {"axis": {"x": "independent", "y": "independent"}},
      "layer": [
        {"data": {"name": "p4c"}, "transform": [{"filter": "datum.c == 'total'"}],
         "mark": {"type": "area", "color": "#f5f516", "opacity": 1},
         "encoding": {
           "x": {"field": "m", "type": "quantitative", "scale": {"domain": [1.783, 3.141], "nice": false, "zero": false},
                 "axis": {"orient": "bottom", "values": [1.8, 2.2, 2.6, 3.0], "format": ".1f", "tickSize": -18, "labelPadding": 38, "title": "M (pp̄) (GeV/c²)", "titleY": 102, "titleBaseline": "alphabetic"}},
           "y": {"field": "v", "type": "quantitative", "scale": {"domain": [0, 26], "nice": false},
                 "axis": {"orient": "left", "values": [0, 5, 10, 15, 20, 25], "tickSize": -18, "labelPadding": 34, "title": "Events /  40 MeV/c²", "titleX": -70, "titleBaseline": "alphabetic"}}
         }},
        {"data": {"name": "p4c"},
         "mark": {"type": "line", "color": "black", "strokeWidth": 2.2},
         "encoding": {
           "x": {"field": "m", "type": "quantitative", "axis": {"orient": "bottom", "values": [1.85,1.9,1.95,2.0,2.05,2.1,2.15,2.25,2.3,2.35,2.4,2.45,2.5,2.55,2.65,2.7,2.75,2.8,2.85,2.9,2.95,3.05,3.1], "tickSize": -9, "labels": false, "title": null}},
           "y": {"field": "v", "type": "quantitative", "axis": {"orient": "left", "values": [1,2,3,4,6,7,8,9,11,12,13,14,16,17,18,19,21,22,23,24], "tickSize": -9, "labels": false, "title": null}},
           "strokeDash": {"field": "c", "type": "nominal", "scale": {"domain": ["total", "dashed", "dotted", "dotted2", "dashdot"], "range": [[1, 0], [10, 6], [2, 4], [2, 4], [10, 4, 2, 4]]}, "legend": null}
         }},
        {"data": {"name": "p4p"}, "mark": {"type": "rule", "color": "black", "strokeWidth": 2},
         "encoding": {"x": {"field": "m", "type": "quantitative", "axis": null}, "y": {"field": "lo", "type": "quantitative", "axis": null}, "y2": {"field": "hi"}}},
        {"data": {"name": "p4p"}, "mark": {"type": "point", "shape": "M-1,0L1,0M0,-0.5L0.5,0L0,0.5L-0.5,0Z", "size": 225, "filled": true, "fill": "black", "stroke": "black", "strokeWidth": 2, "opacity": 1},
         "encoding": {"x": {"field": "m", "type": "quantitative", "axis": null}, "y": {"field": "n", "type": "quantitative", "axis": null}}},
        {"data": {"values": [{}]}, "mark": {"type": "rect", "fill": "#d9f7fb", "stroke": "#3d4fb5", "strokeWidth": 2},
         "encoding": {"x": {"datum": 1.821, "type": "quantitative", "axis": null}, "x2": {"datum": 2.492}, "y": {"datum": 17.35, "type": "quantitative", "axis": null}, "y2": {"datum": 25.1}}},
        {"data": {"values": [{"t": "1."}]}, "mark": {"type": "text", "font": "Liberation Serif", "fontWeight": "bold", "fontSize": 40, "color": "#1a1ae0", "align": "center", "baseline": "middle"},
         "encoding": {"text": {"field": "t"}, "x": {"datum": 1.958, "type": "quantitative", "axis": null}, "y": {"datum": 23.5, "type": "quantitative", "axis": null}}},
        {"data": {"values": [{"t": "2."}]}, "mark": {"type": "text", "font": "Liberation Serif", "fontWeight": "bold", "fontSize": 40, "color": "#1a1ae0", "align": "center", "baseline": "middle"},
         "encoding": {"text": {"field": "t"}, "x": {"datum": 1.958, "type": "quantitative", "axis": null}, "y": {"datum": 20.5, "type": "quantitative", "axis": null}}},
        {"data": {"values": [{"t": "N(1535)"}]}, "mark": {"type": "text", "font": "Liberation Serif", "fontWeight": "bold", "fontSize": 40, "color": "#1a1ae0", "align": "left", "baseline": "middle"},
         "encoding": {"text": {"field": "t"}, "x": {"datum": 2.07, "type": "quantitative", "axis": null}, "y": {"datum": 23.5, "type": "quantitative", "axis": null}}},
        {"data": {"values": [{"t": "R(2100)"}]}, "mark": {"type": "text", "font": "Liberation Serif", "fontWeight": "bold", "fontSize": 40, "color": "#1a1ae0", "align": "left", "baseline": "middle"},
         "encoding": {"text": {"field": "t"}, "x": {"datum": 2.07, "type": "quantitative", "axis": null}, "y": {"datum": 20.5, "type": "quantitative", "axis": null}}},
        {"data": {"values": [{"t": "1"}]}, "mark": {"type": "text", "font": "Liberation Serif", "fontStyle": "italic", "fontSize": 32, "color": "black", "align": "center", "baseline": "middle"},
         "encoding": {"text": {"field": "t"}, "x": {"datum": 2.757, "type": "quantitative", "axis": null}, "y": {"datum": 1.6, "type": "quantitative", "axis": null}}},
        {"data": {"values": [{"t": "2"}]}, "mark": {"type": "text", "font": "Liberation Serif", "fontStyle": "italic", "fontSize": 32, "color": "black", "align": "center", "baseline": "middle"},
         "encoding": {"text": {"field": "t"}, "x": {"datum": 2.604, "type": "quantitative", "axis": null}, "y": {"datum": 3.0, "type": "quantitative", "axis": null}}}
      ]
    }
  ]
}
